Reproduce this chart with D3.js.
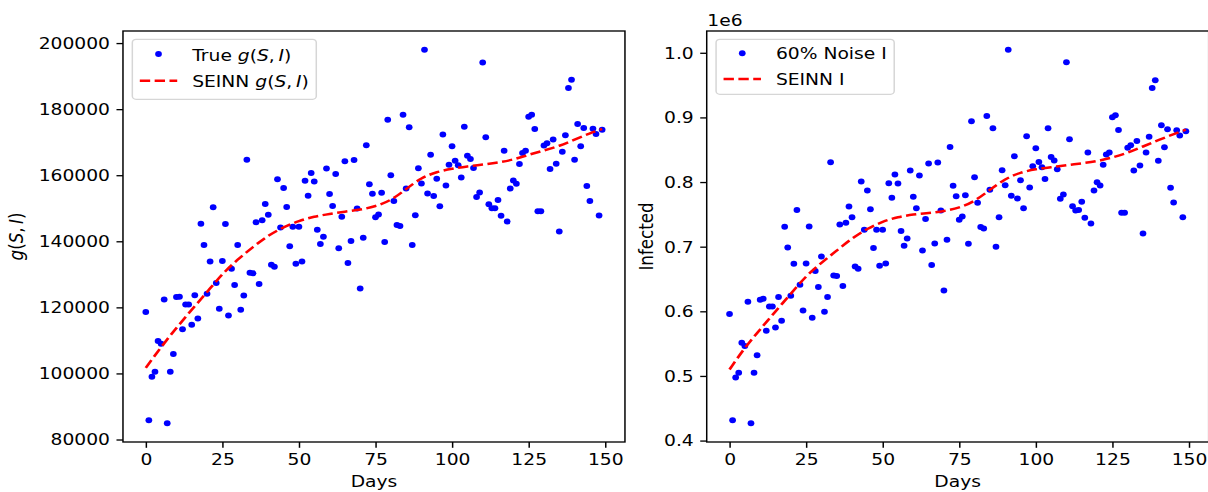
<!DOCTYPE html>
<html>
<head>
<meta charset="utf-8">
<script src="https://cdn.jsdelivr.net/npm/d3@7"></script>
<style>
  html, body { margin: 0; padding: 0; background: #fff; overflow: hidden; }
  svg { display: block; }
  text { font-family: "DejaVu Sans", sans-serif; font-size: 16.7px; fill: #000; }
</style>
</head>
<body>
<svg id="fig"></svg>
<script>
// Observed g(S, I), one value per day (day = index)
const gTrue = [
  118600, 85800, 99000, 100500, 109800, 109000, 122400, 84900, 100500, 105900,
  123100, 123200, 113400, 120900, 120900, 114700, 123700, 116600, 145300, 138900,
  124100, 133900, 150300, 127400, 119600, 134000, 145200, 117500, 131700, 126800,
  138900, 119300, 123600, 164700, 130500, 130300, 145800, 127100, 146400, 151300,
  148000, 132900, 132300, 158800, 144200, 156100, 150400, 138500, 144400, 133200,
  144400, 133900, 158300, 153800, 160700, 158100, 143500, 139200, 141400, 162000,
  154300, 150700, 160400, 137900, 147400, 164200, 133400, 140100, 164600, 149900,
  125700, 141100, 169100, 157300, 154400, 147300, 148100, 154700, 139800, 176800,
  160000, 152200, 144900, 144600, 178300, 156000, 174500, 138900, 147900, 162100,
  157500, 198000, 154500, 166200, 153700, 158900, 150600, 172300, 156900, 163200,
  168800, 164400, 163000, 159300, 174700, 165900, 164900, 162200, 153400, 154800,
  194100, 171500, 151200, 150000, 150000, 152500, 147700, 167400, 146000, 156000,
  158400, 157400, 163400, 166700, 167400, 177700, 178300, 174000, 149100, 149100,
  169000, 169700, 161900, 170800, 163500, 143000, 167100, 172100, 186400, 188900,
  164700, 175500, 168800, 174300, 156700, 152200, 174100, 172500, 147800, 173800
];

// Noisy infected counts, one value per day
const infectedNoisy = [
  595800, 431400, 497400, 505100, 551500, 546400, 614800, 426700, 505100, 531900,
  617900, 619500, 570000, 607600, 607600, 575100, 622100, 585500, 730800, 698800,
  624100, 673600, 756600, 641100, 601400, 674100, 731300, 590100, 662300, 637600,
  684900, 599400, 622100, 830800, 655500, 654600, 734300, 639100, 736900, 762100,
  745700, 669400, 665800, 800800, 726100, 786900, 758100, 697800, 726100, 670500,
  726100, 674100, 798300, 775600, 811600, 797700, 724100, 701400, 712700, 817800,
  777100, 759600, 810100, 694100, 742700, 828600, 671600, 705000, 830200, 756000,
  632300, 710700, 854400, 794100, 778200, 741600, 746700, 779700, 704500, 894100,
  807600, 767800, 730300, 728100, 902300, 787900, 883300, 699800, 745700, 818400,
  795200, 1004800, 778700, 840000, 774500, 802900, 759600, 870900, 791500, 824600,
  852400, 831200, 823000, 804900, 883300, 838900, 833200, 819900, 774000, 780700,
  985300, 866300, 762700, 756000, 756600, 769400, 744700, 845600, 735900, 786900,
  799800, 794600, 826600, 842500, 845600, 900300, 903400, 880700, 752400, 752400,
  852900, 857000, 817800, 863700, 825500, 720400, 845600, 869900, 945600, 957500,
  832800, 887900, 853900, 881800, 791000, 768300, 880200, 871900, 745700, 878700
];

// SEINN model curves, sampled every 5 days
const fitDays = [0, 5, 10, 15, 20, 25, 30, 35, 40, 45, 50, 55, 60, 65, 70, 75,
                 80, 85, 90, 95, 100, 105, 110, 115, 120, 125, 130, 135, 140, 145, 149];
const gFit = [101700, 108000, 113800, 119300, 124600, 130200, 134500, 138300, 141800, 144300,
              146200, 147500, 148300, 149000, 149500, 150600, 152300, 155800, 159300, 161000,
              162000, 162700, 163200, 163800, 164700, 166200, 167500, 168800, 170800, 172700, 174000];
const infectedFit = [510000, 544000, 572000, 600000, 627000, 655000, 675000, 694000, 713000, 728000,
                     739000, 746000, 750000, 752000, 755000, 760000, 770000, 788000, 805000, 815000,
                     820000, 823000, 826000, 829000, 832000, 838000, 845000, 855000, 865000, 874000, 881000];

// Tick values
const dayTicks = [0, 25, 50, 75, 100, 125, 150];
const gTicks = [80000, 100000, 120000, 140000, 160000, 180000, 200000];
const infectedTicks = [400000, 500000, 600000, 700000, 800000, 900000, 1000000];

// Figure geometry (drawing units; the figure is widened by SX on screen)
const SX = 1.12;
const W = 1208 / SX, H = 492;
const FS = 16.7;
const TOP = 31, BOT = 442, AW = 448.2;
const TICK = 5.8, PAD = 5.8;
const LW = 1.33;
const DOT = 3.0;

const svg = d3.select('#fig')
  .attr('width', 1208).attr('height', H)
  .attr('viewBox', `0 0 ${W} ${H}`)
  .attr('preserveAspectRatio', 'none');

// Italic math label g(S, I)
function mathG(sel) {
  sel.append('tspan').attr('font-style', 'italic').text('g');
  sel.append('tspan').text('(');
  sel.append('tspan').attr('font-style', 'italic').text('S');
  sel.append('tspan').text(',\u2009');
  sel.append('tspan').attr('font-style', 'italic').text('I');
  sel.append('tspan').text(')');
}

function panel(cfg) {
  const g = svg.append('g');
  const days = cfg.points.map((_, i) => i);

  const [d0, d1] = d3.extent(days);
  const dp = 0.05 * (d1 - d0);
  const x = d3.scaleLinear().domain([d0 - dp, d1 + dp]).range([cfg.left, cfg.left + AW]);

  const [lo, hi] = d3.extent(cfg.points);
  const vp = 0.05 * (hi - lo);
  const y = d3.scaleLinear().domain([lo - vp, hi + vp]).range([BOT, TOP]);

  // scatter
  g.append('g').selectAll('circle')
    .data(cfg.points)
    .join('circle')
    .attr('cx', (d, i) => x(days[i]))
    .attr('cy', d => y(d))
    .attr('r', DOT)
    .attr('fill', '#0000ff');

  // model curve
  const line = d3.line()
    .x(d => x(d[0]))
    .y(d => y(d[1]))
    .curve(d3.curveBasis);
  g.append('path')
    .datum(fitDays.map((d, i) => [d, cfg.fit[i]]))
    .attr('d', line)
    .attr('fill', 'none')
    .attr('stroke', '#ff0000')
    .attr('stroke-width', 2.5)
    .attr('stroke-dasharray', '9.25,4');

  // axes
  const xAxis = g.append('g')
    .attr('transform', `translate(0,${BOT})`)
    .call(d3.axisBottom(x).tickValues(dayTicks).tickSize(TICK).tickPadding(PAD).tickSizeOuter(0));
  const yAxis = g.append('g')
    .attr('transform', `translate(${cfg.left},0)`)
    .call(d3.axisLeft(y).tickValues(cfg.ticks).tickFormat(cfg.fmt)
      .tickSize(TICK).tickPadding(PAD).tickSizeOuter(0));
  [xAxis, yAxis].forEach(a => {
    a.attr('font-size', null).attr('font-family', null);
    a.select('.domain').remove();
    a.selectAll('.tick line').attr('stroke', '#000').attr('stroke-width', LW);
  });

  // frame
  g.append('rect')
    .attr('x', cfg.left).attr('y', TOP)
    .attr('width', AW).attr('height', BOT - TOP)
    .attr('fill', 'none').attr('stroke', '#000').attr('stroke-width', LW);

  // x label
  g.append('text')
    .attr('x', cfg.left + AW / 2).attr('y', 487)
    .attr('text-anchor', 'middle')
    .text('Days');

  // y label
  const yl = g.append('text')
    .attr('transform', `translate(${cfg.ylabelX},${(TOP + BOT) / 2}) rotate(-90)`)
    .attr('text-anchor', 'middle');
  cfg.ylabel(yl);

  if (cfg.offset) {
    g.append('text').attr('x', cfg.left + 0.5).attr('y', 26).text(cfg.offset);
  }

  // legend
  const lg = g.append('g');
  const bx = cfg.left + 0.5 * FS, by = TOP + 0.5 * FS;
  const hx0 = bx + 0.4 * FS, hx1 = hx0 + 2 * FS, tx = hx1 + 0.8 * FS;
  const box = lg.append('rect')
    .attr('x', bx).attr('y', by).attr('rx', 3.3).attr('ry', 3.3)
    .attr('height', cfg.legendBottom - by)
    .attr('fill', 'rgba(255,255,255,0.8)')
    .attr('stroke', '#d6d6d6').attr('stroke-width', LW);

  lg.append('circle')
    .attr('cx', (hx0 + hx1) / 2).attr('cy', cfg.rows[0])
    .attr('r', DOT).attr('fill', '#0000ff');
  lg.append('line')
    .attr('x1', hx0).attr('x2', hx1)
    .attr('y1', cfg.rows[1]).attr('y2', cfg.rows[1])
    .attr('stroke', '#ff0000').attr('stroke-width', 2.5)
    .attr('stroke-dasharray', '9.25,4');

  const t1 = lg.append('text').attr('x', tx).attr('y', cfg.rows[0] + cfg.baseOff);
  cfg.label1(t1);
  const t2 = lg.append('text').attr('x', tx).attr('y', cfg.rows[1] + cfg.baseOff);
  cfg.label2(t2);
  const tw = Math.max(t1.node().getComputedTextLength(), t2.node().getComputedTextLength());
  box.attr('width', tx + tw + 0.4 * FS - bx);
}

panel({
  left: 109.8,
  points: gTrue,
  fit: gFit,
  ticks: gTicks,
  fmt: d3.format('d'),
  ylabelX: 20.5,
  ylabel: s => mathG(s),
  rows: [54, 80.7],
  baseOff: 6.6,
  legendBottom: 99.3,
  label1: s => { s.append('tspan').text('True '); mathG(s); },
  label2: s => { s.append('tspan').text('SEINN '); mathG(s); }
});

panel({
  left: 631,
  points: infectedNoisy,
  fit: infectedFit,
  ticks: infectedTicks,
  fmt: d => (d / 1e6).toFixed(1),
  ylabelX: 583.3,
  ylabel: s => s.text('Infected'),
  offset: '1e6',
  rows: [53.3, 79],
  baseOff: 6.1,
  legendBottom: 94.3,
  label1: s => s.text('60% Noise I'),
  label2: s => s.text('SEINN I')
});
</script>
</body>
</html>
